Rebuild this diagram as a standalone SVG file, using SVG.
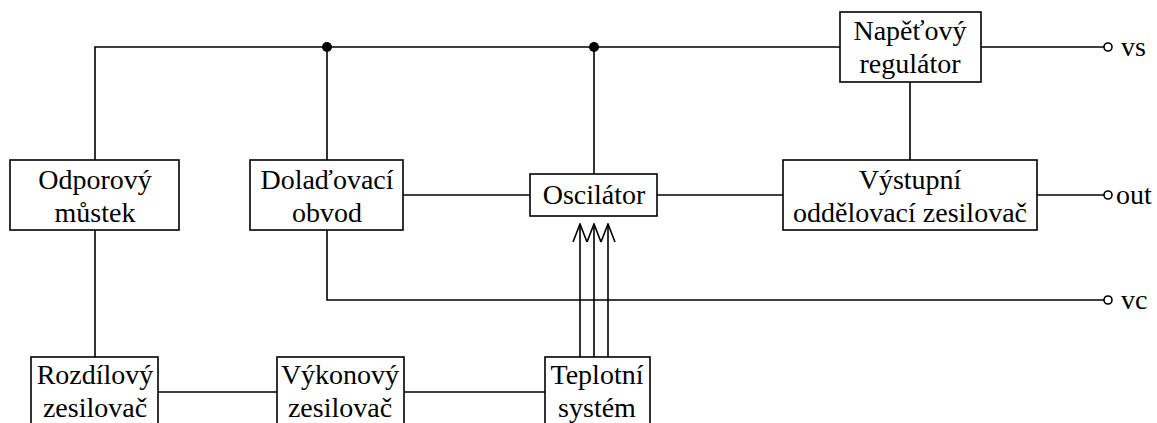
<svg xmlns="http://www.w3.org/2000/svg" width="1157" height="423" viewBox="0 0 1157 423" font-family="Liberation Serif, serif" font-size="28">
  <style>
    .box { fill: #fff; stroke: #000; stroke-width: 1.6; }
    .wire { fill: none; stroke: #000; stroke-width: 1.6; }
    text { fill: #000; }
    .lbl { text-anchor: middle; }
    .dot { fill: #000; }
    .pin { fill: #fff; stroke: #000; stroke-width: 1.6; }
  </style>
  <defs>
    <!-- open V arrowhead, tip at the line end -->
    <marker id="openArrow" viewBox="0 0 20 16" refX="19" refY="8" markerWidth="20" markerHeight="16" markerUnits="userSpaceOnUse" orient="auto">
      <path d="M1,1 L19,8 L1,15" fill="none" stroke="#000" stroke-width="1.6"/>
    </marker>
  </defs>

  <!-- connectors -->
  <g id="connectors">
    <!-- supply bus -->
    <polyline class="wire" points="95,160 95,47 840,47"/>
    <line class="wire" x1="327" y1="47" x2="327" y2="160"/>
    <line class="wire" x1="594" y1="47" x2="594" y2="174"/>
    <line class="wire" x1="981" y1="47" x2="1104" y2="47"/>
    <line class="wire" x1="910" y1="82" x2="910" y2="160"/>
    <!-- signal path -->
    <line class="wire" x1="403" y1="195" x2="530" y2="195"/>
    <line class="wire" x1="657" y1="195" x2="783" y2="195"/>
    <line class="wire" x1="1037" y1="195" x2="1104" y2="195"/>
    <!-- tuning voltage -->
    <polyline class="wire" points="327,230 327,300 1104,300"/>
    <!-- temperature loop -->
    <line class="wire" x1="95" y1="230" x2="95" y2="357"/>
    <line class="wire" x1="158" y1="392" x2="277" y2="392"/>
    <line class="wire" x1="404" y1="392" x2="545" y2="392"/>
    <line class="wire" x1="580" y1="357" x2="580" y2="224" marker-end="url(#openArrow)"/>
    <line class="wire" x1="594" y1="357" x2="594" y2="224" marker-end="url(#openArrow)"/>
    <line class="wire" x1="608" y1="357" x2="608" y2="224" marker-end="url(#openArrow)"/>
    <!-- junctions and terminals -->
    <circle class="dot" cx="327" cy="47" r="5"/>
    <circle class="dot" cx="594" cy="47" r="5"/>
    <circle class="pin" cx="1108" cy="47" r="4"/>
    <circle class="pin" cx="1108" cy="195" r="4"/>
    <circle class="pin" cx="1108" cy="300" r="4"/>
    <text x="1121" y="56">vs</text>
    <text x="1116" y="204">out</text>
    <text x="1121" y="309">vc</text>
  </g>

  <g id="odporovy-mustek">
    <rect class="box" x="10" y="160" width="169" height="70"/>
    <text class="lbl" x="95" y="189">Odporový</text>
    <text class="lbl" x="95" y="222">můstek</text>
  </g>

  <g id="doladovaci-obvod">
    <rect class="box" x="250" y="160" width="153" height="70"/>
    <text class="lbl" x="327" y="189">Dolaďovací</text>
    <text class="lbl" x="327" y="222">obvod</text>
  </g>

  <g id="oscilator">
    <rect class="box" x="530" y="174" width="127" height="42"/>
    <text class="lbl" x="594" y="204">Oscilátor</text>
  </g>

  <g id="napetovy-regulator">
    <rect class="box" x="840" y="12" width="141" height="70"/>
    <text class="lbl" x="910" y="40">Napěťový</text>
    <text class="lbl" x="910" y="73">regulátor</text>
  </g>

  <g id="vystupni-zesilovac">
    <rect class="box" x="783" y="160" width="254" height="70"/>
    <text class="lbl" x="910" y="189">Výstupní</text>
    <text class="lbl" x="910" y="222">oddělovací zesilovač</text>
  </g>

  <g id="rozdilovy-zesilovac">
    <rect class="box" x="31" y="357" width="127" height="80"/>
    <text class="lbl" x="95" y="384">Rozdílový</text>
    <text class="lbl" x="95" y="417">zesilovač</text>
  </g>

  <g id="vykonovy-zesilovac">
    <rect class="box" x="277" y="357" width="127" height="80"/>
    <text class="lbl" x="340" y="384">Výkonový</text>
    <text class="lbl" x="340" y="417">zesilovač</text>
  </g>

  <g id="teplotni-system">
    <rect class="box" x="545" y="357" width="105" height="80"/>
    <text class="lbl" x="597" y="384">Teplotní</text>
    <text class="lbl" x="597" y="417">systém</text>
  </g>
</svg>
